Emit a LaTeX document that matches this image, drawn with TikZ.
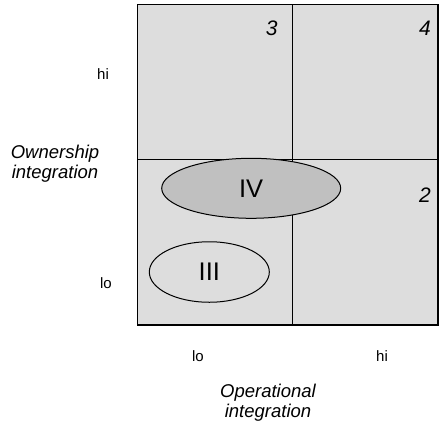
\documentclass[tikz,border=0pt]{standalone}
\usepackage{fontspec}
\setmainfont{Liberation Sans}
\usetikzlibrary{shapes.geometric}
\begin{document}
\begin{tikzpicture}[x=1pt,y=-1pt,
  oval/.style={ellipse,draw=black,line width=1pt,inner sep=0pt,font=\fontsize{25.5}{28}\selectfont},
  num/.style={font=\fontsize{21}{24}\selectfont\itshape},
  axis/.style={font=\fontsize{15}{17}\selectfont},
  title/.style={font=\fontsize{18.5}{21}\selectfont\itshape,align=center}]
\definecolor{boxgray}{HTML}{DDDDDD}
\definecolor{ovalgray}{HTML}{C0C0C0}
\useasboundingbox (0,0) rectangle (439,426);
\fill[boxgray] (137.5,4.5) rectangle (438,325);
\draw[line width=1.1pt] (137.5,4.5) rectangle (438,325);
\draw[line width=1.1pt] (292.3,4.5) -- (292.3,325);
\draw[line width=1.1pt] (137.5,159.3) -- (438,159.3);
\node[oval,fill=ovalgray,minimum width=179pt,minimum height=60pt] (iv) at (251.2,188.3) {IV};
\node[oval,fill=boxgray,minimum width=120pt,minimum height=60.5pt] (iii) at (209.3,272) {III};
\node[num] (n3) at (271.7,28.3) {3};
\node[num] (n4) at (425,28.3) {4};
\node[num] (n2) at (425,195) {2};
\node[axis] (yhi) at (103,74) {hi};
\node[axis] (ylo) at (106,283) {lo};
\node[axis] (xlo) at (198,356) {lo};
\node[axis] (xhi) at (382,356) {hi};
\node[title] (ytitle) at (55,164) {Ownership\\[-1pt]integration};
\node[title] (xtitle) at (268,403) {Operational\\[-1pt]integration};
\end{tikzpicture}
\end{document}
